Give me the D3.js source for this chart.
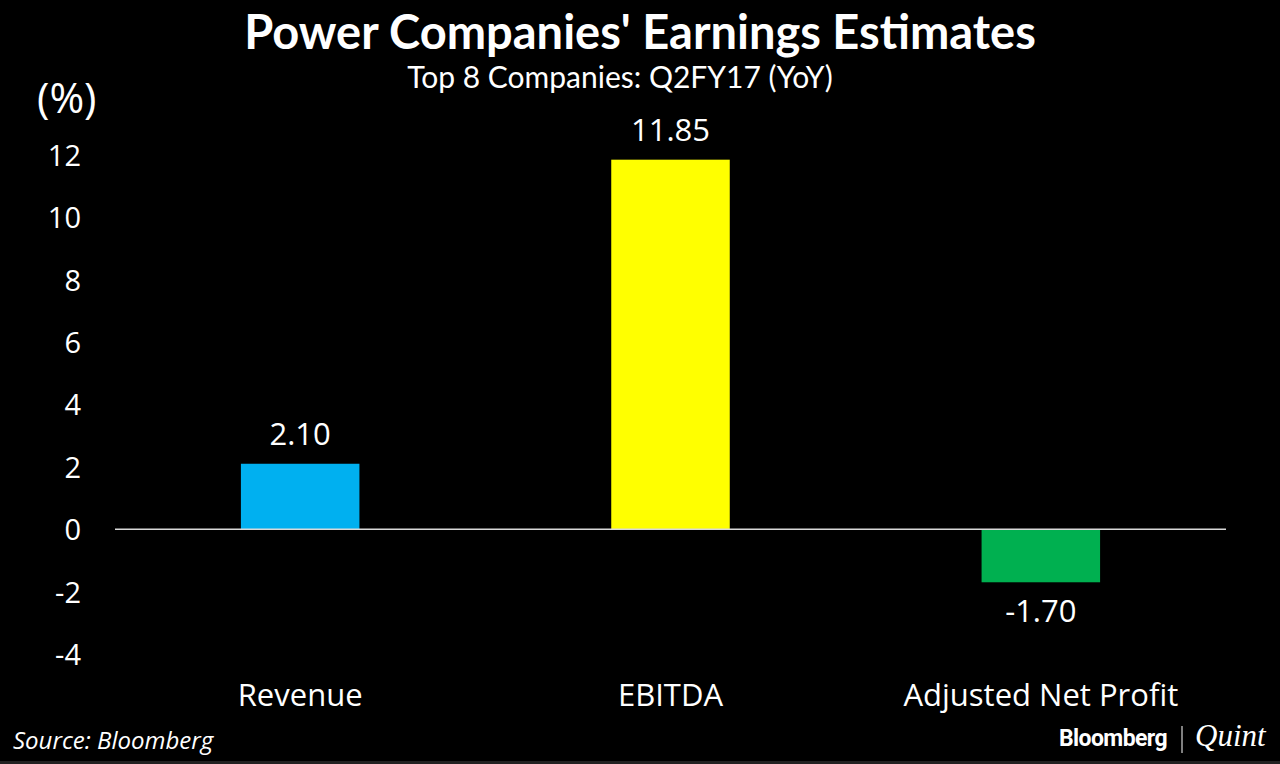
<!DOCTYPE html>
<html>
<head>
<meta charset="utf-8">
<script src="https://cdn.jsdelivr.net/npm/d3@7"></script>
<style>
  body { margin: 0; background: #000; }
  svg { display: block; }
</style>
</head>
<body>
<div id="container"></div>
<script>
const width = 1280,
  height = 764,
  margin = {top: 155, bottom: 110, left: 115, right: 54};

const categories = ["Revenue", "EBITDA", "Adjusted Net Profit"];
const values = [2.10, 11.85, -1.70];
const barColors = ["#00b0f0", "#ffff00", "#00b050"];
const yTicks = [12, 10, 8, 6, 4, 2, 0, -2, -4];

const svg = d3.select("#container")
  .append("svg")
  .attr("width", width)
  .attr("height", height)
  .style("background", "#000");

// y: 12 at 155, -4 at ~654
const yScale = d3.scaleLinear()
  .domain([-4, 12])
  .range([654, 155]);

const xScale = d3.scaleBand()
  .domain(categories)
  .range([margin.left, width - margin.right])
  .padding(0);

const barW = xScale.bandwidth() * 0.32;

// y axis labels only, plain hyphen for negatives
const yAxis = d3.axisLeft(yScale)
  .tickValues(yTicks)
  .tickSize(0)
  .tickPadding(0)
  .tickFormat(d => String(d));

svg.append("g")
  .attr("class", "yAxis")
  .attr("transform", `translate(${81},0)`)
  .call(yAxis)
  .call(g => g.select(".domain").remove())
  .selectAll("text")
  .attr("fill", "#fff")
  .attr("font-family", "Open Sans")
  .attr("font-size", 29)
  .attr("dy", "0.36em");

// bars
svg.selectAll("rect.bar")
  .data(values)
  .join("rect")
  .attr("class", "bar")
  .attr("x", (d, i) => xScale(categories[i]) + (xScale.bandwidth() - barW) / 2)
  .attr("y", d => yScale(Math.max(0, d)))
  .attr("width", barW)
  .attr("height", d => Math.abs(yScale(d) - yScale(0)))
  .attr("fill", (d, i) => barColors[i]);

// zero line
svg.append("line")
  .attr("x1", margin.left)
  .attr("x2", width - margin.right)
  .attr("y1", yScale(0))
  .attr("y2", yScale(0))
  .attr("stroke", "#d9d9d9")
  .attr("stroke-width", 1.5);

// value labels
svg.selectAll("text.val")
  .data(values)
  .join("text")
  .attr("class", "val")
  .attr("x", (d, i) => xScale(categories[i]) + xScale.bandwidth() / 2)
  .attr("y", d => d >= 0 ? yScale(d) - 19 : yScale(d) + 40)
  .attr("text-anchor", "middle")
  .attr("fill", "#fff")
  .attr("font-family", "Open Sans")
  .attr("font-size", 31)
  .text(d => d.toFixed(2));

// x axis labels
const xAxis = d3.axisBottom(xScale).tickSize(0).tickPadding(0);
svg.append("g")
  .attr("class", "xAxis")
  .attr("transform", `translate(0,${706})`)
  .call(xAxis)
  .call(g => g.select(".domain").remove())
  .selectAll("text")
  .attr("fill", "#fff")
  .attr("font-family", "Open Sans")
  .attr("font-size", 31)
  .attr("dy", 0);

// titles
svg.append("text")
  .attr("x", 640).attr("y", 49)
  .attr("text-anchor", "middle")
  .attr("fill", "#fff")
  .attr("font-family", "Lato")
  .attr("font-weight", "bold")
  .attr("font-size", 47)
  .text("Power Companies' Earnings Estimates");

svg.append("text")
  .attr("x", 620).attr("y", 88)
  .attr("text-anchor", "middle")
  .attr("fill", "#fff")
  .attr("font-family", "Lato")
  .attr("font-size", 30)
  .text("Top 8 Companies: Q2FY17 (YoY)");

svg.append("text")
  .attr("x", 37).attr("y", 113)
  .attr("fill", "#fff")
  .attr("font-family", "Open Sans")
  .attr("font-size", 42)
  .text("(%)");

// footer
svg.append("text")
  .attr("x", 13).attr("y", 749)
  .attr("fill", "#fff")
  .attr("font-family", "Open Sans")
  .attr("font-style", "italic")
  .attr("font-size", 24)
  .text("Source: Bloomberg");

svg.append("text")
  .attr("x", 1167).attr("y", 746)
  .attr("text-anchor", "end")
  .attr("fill", "#fff")
  .attr("font-family", "Roboto")
  .attr("font-weight", "bold")
  .attr("font-size", 23)
  .attr("letter-spacing", -0.6)
  .text("Bloomberg");

svg.append("line")
  .attr("x1", 1182).attr("x2", 1182)
  .attr("y1", 726).attr("y2", 753)
  .attr("stroke", "#fff")
  .attr("stroke-width", 1);

svg.append("text")
  .attr("x", 1195).attr("y", 746)
  .attr("fill", "#fff")
  .attr("font-family", "Liberation Serif")
  .attr("font-style", "italic")
  .attr("font-size", 31)
  .text("Quint");

svg.append("rect")
  .attr("x", 0).attr("y", 761)
  .attr("width", width).attr("height", 3)
  .attr("fill", "#222");
</script>
</body>
</html>
